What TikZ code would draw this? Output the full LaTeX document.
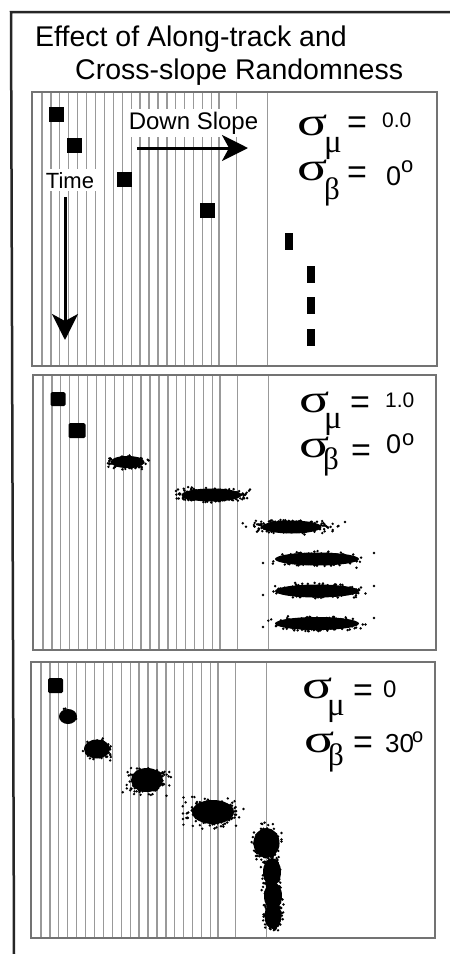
\documentclass[tikz,border=0pt]{standalone}
\usepackage{fontspec}
\setmainfont{Liberation Sans}
\newfontfamily\grkfont{Liberation Serif}
\usetikzlibrary{arrows.meta}
\newcommand\fs[1]{\fontsize{#1}{#1}\selectfont}
\newcommand\scat[5]{%
  \foreach \i in {1,...,#5}{%
    \pgfmathsetmacro\dx{#3*(rand+rand+rand)}%
    \pgfmathsetmacro\dy{#4*(rand+rand+rand)}%
    \fill ({#1+\dx},{#2+\dy}) circle[radius=1.35pt];%
  }%
}
\newcommand\core[4]{\fill (#1,#2) ellipse[x radius=#3pt, y radius=#4pt];}
\newcommand\gpanel[4]{%
  \foreach \k in {0,...,19}{\draw[gridline] ({#1+10+8.92*\k},#2) -- ({#1+10+8.92*\k},#4);}
  \draw[gridline] ({#1+187},#2) -- ({#1+187},#4);
  \draw[gridline] ({#1+204.5},#2) -- ({#1+204.5},#4);
  \draw[gridline] ({#1+235.5},#2) -- ({#1+235.5},#4);
  \draw[panelframe] (#1,#2) rectangle (#3,#4);
}
\newcommand\sgm{\scalebox{1.4}[1]{σ}}
\begin{document}
\begin{tikzpicture}[x=1pt,y=-1pt,
  gridline/.style={draw=black!40, line width=1.3pt},
  panelframe/.style={draw=black!55, line width=1.8pt},
  glyph/.style={inner sep=0pt, anchor=base west},
  sigfont/.style={font=\grkfont\fs{40}},
  subfont/.style={font=\grkfont\fs{33}},
  betafont/.style={font=\grkfont\fs{31}},
  eqfont/.style={font=\fs{34}},
  bigarrow/.style={line width=3pt, -{Stealth[length=26pt,width=26pt,inset=7pt]}},
  blk/.style={fill=black}]
\useasboundingbox (0,0) rectangle (450,954);
\fill[white] (0,0) rectangle (450,954);
\pgfmathsetseed{7}
% outer frame
\draw[line width=2.5pt, black!85] (450,12) -- (11,12) -- (14,954);
% title
\node[glyph, font=\fs{28.5}] (title1) at (35,46) {Effect of Along-track and};
\node[glyph, font=\fs{28.5}] (title2) at (75,79) {Cross-slope Randomness};

% ---------- panel 1
\gpanel{32}{92}{437}{366}
\node[fill=white, inner sep=3pt, font=\fs{22}, anchor=base] (time) at (70,188) {Time};
\node[fill=white, inner sep=3pt, font=\fs{24}, anchor=base] (down) at (193.5,129) {Down Slope};
\coordinate (dsA) at (137,148); \coordinate (dsB) at (248,148);
\draw[bigarrow] (dsA) -- (dsB);
\coordinate (tA) at (65,197); \coordinate (tB) at (65,340);
\draw[bigarrow] (tA) -- (tB);
\fill[blk] (48.5,106.5) rectangle (63.5,121.5);
\fill[blk] (67,138) rectangle (82,153);
\fill[blk] (117,172) rectangle (132,187);
\fill[blk] (200,203) rectangle (215,218);
\fill[blk] (285,233) rectangle (293,250);
\fill[blk] (307,266) rectangle (315,283);
\fill[blk] (307,297) rectangle (315,314);
\fill[blk] (307,329) rectangle (315,346);
\node[glyph, sigfont] (s1a) at (297,135) {\sgm};
\node[glyph, subfont] (mu1) at (324,152) {μ};
\node[glyph, eqfont] (eq1a) at (347,133) {=};
\node[glyph, font=\fs{21}] (v1a) at (382,127) {0.0};
\node[glyph, sigfont] (s1b) at (297,180) {\sgm};
\node[glyph, betafont] (be1) at (324,199.5) {β};
\node[glyph, eqfont] (eq1b) at (347,183.5) {=};
\node[glyph, font=\fs{27}] (v1b) at (386,185) {0};
\node[glyph, font=\fs{22}] (d1b) at (401,172) {o};

% ---------- panel 2
\gpanel{33}{375}{436}{650}
\fill[blk, rounded corners=1.5pt] (50.5,392) rectangle (65.5,406);
\fill[blk, rounded corners=1.5pt] (68.5,423) rectangle (85.5,438);
\core{127.5}{462}{17}{6}   \scat{127.5}{462}{9}{3}{170}
\core{211.5}{495}{30}{6.5} \scat{211.5}{495}{17}{3}{300}
\core{291.5}{527}{30}{6.5} \scat{291.5}{527}{18}{3}{300}
\foreach \yy in {559,591,623.5}{\core{317}{\yy}{42}{6.5}}
\scat{317}{559}{18}{3.2}{340}
\scat{317}{591}{18}{3.2}{340}
\scat{317}{623.5}{18}{3.2}{340}
\foreach \yy in {563,595,627}{\fill (263,\yy) circle[radius=1.4pt];}
\foreach \yy in {553,586,618}{\fill (374,\yy) circle[radius=1.4pt];}
\fill (345,522) circle[radius=1.4pt];
\node[glyph, sigfont] (s2a) at (299,412) {\sgm};
\node[glyph, subfont] (mu2) at (324,428) {μ};
\node[glyph, eqfont] (eq2a) at (350,413.5) {=};
\node[glyph, font=\fs{21}] (v2a) at (385,407) {1.0};
\node[glyph, sigfont] (s2b) at (299,457) {\sgm};
\node[glyph, betafont] (be2) at (323,469.5) {β};
\node[glyph, eqfont] (eq2b) at (351,461) {=};
\node[glyph, font=\fs{27}] (v2b) at (386,453) {0};
\node[glyph, font=\fs{22}] (d2b) at (402,445) {o};

% ---------- panel 3
\gpanel{31}{662}{435}{938}
\fill[blk, rounded corners=1.5pt] (48,678) rectangle (63,693);
\core{68}{716.5}{9}{7.5}   \scat{68}{716.5}{3.5}{3}{70}
\core{97}{749}{13}{9.5}    \scat{97}{749}{6}{4.5}{120}
\core{147}{780}{16}{12}    \scat{147}{780}{9}{6.5}{220}
\core{213}{812}{21}{12}    \scat{213}{812}{12}{6.5}{260}
\core{266.5}{843}{13}{15}  \scat{266.5}{843}{6.5}{8}{200}
\core{272}{872}{9}{14}     \scat{272}{872}{4.5}{8}{150}
\core{273}{896}{9}{14}     \scat{273}{896}{4.5}{8}{150}
\core{273}{916}{8.5}{13}   \scat{273}{918}{4.5}{6}{130}
\node[glyph, sigfont] (s3a) at (302,698) {\sgm};
\node[glyph, subfont] (mu3) at (327,715) {μ};
\node[glyph, eqfont] (eq3a) at (353,701) {=};
\node[glyph, font=\fs{24}] (v3a) at (383,697) {0};
\node[glyph, sigfont] (s3b) at (304,752) {\sgm};
\node[glyph, betafont] (be3) at (328,765) {β};
\node[glyph, eqfont] (eq3b) at (353,753) {=};
\node[glyph, font=\fs{26}] (v3b) at (385,752) {30};
\node[glyph, font=\fs{20}] (d3b) at (412,742) {o};
\end{tikzpicture}
\end{document}
